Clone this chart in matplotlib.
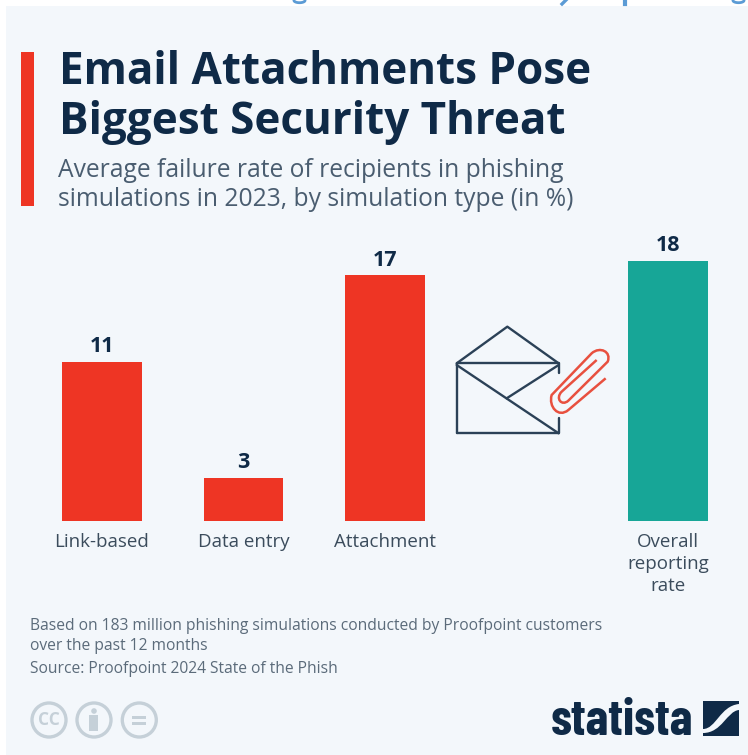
import matplotlib
matplotlib.use("Agg")
import matplotlib.pyplot as plt
from matplotlib.patches import Circle, Rectangle, PathPatch
from matplotlib.path import Path
import numpy as np

# Data
categories = ["Link-based", "Data entry", "Attachment", "Overall\nreporting\nrate"]
positions = [0, 1, 2, 4]
values = [11, 3, 17, 18]
bar_colors = ["#ee3524", "#ee3524", "#ee3524", "#17a697"]

title_lines = ["Email Attachments Pose", "Biggest Security Threat"]
subtitle_lines = ["Average failure rate of recipients in phishing",
                  "simulations in 2023, by simulation type (in %)"]
note_lines = ["Based on 183 million phishing simulations conducted by Proofpoint customers",
              "over the past 12 months"]
source_line = "Source: Proofpoint 2024 State of the Phish"

NAVY = "#0f2a47"
PANEL = "#f3f7fb"
W, H = 748, 755

plt.rcParams["font.family"] = ["Open Sans", "DejaVu Sans"]
fig = plt.figure(figsize=(W / 100, H / 100), dpi=100, facecolor="white")

# Overlay in pixel coordinates for the decoration
bg = fig.add_axes([0, 0, 1, 1])
bg.set_xlim(0, W)
bg.set_ylim(H, 0)
bg.axis("off")
bg.add_patch(Rectangle((6, 6), W - 6, H - 6, fc=PANEL, ec="none"))
bg.add_patch(Rectangle((21, 52), 13, 154, fc="#ee3524", ec="none"))

# Stubs of the page headline that the crop cuts off at the top
blue = "#5b9bd5"
t = np.linspace(0, np.pi, 20)
for cx in [299.5, 738.5]:
    bg.plot(cx + 5.5 * np.cos(t), 0.5 + 2.2 * np.sin(t), color=blue, lw=2)
bg.plot([567, 562], [-1, 4], color=blue, lw=2.4)
bg.plot([625, 625], [-1, 4], color=blue, lw=3)

for y, line in zip([84, 134], title_lines):
    bg.text(59, y, line, color=NAVY, fontsize=31.7, fontweight="bold", va="baseline")
for y, line in zip([177, 206], subtitle_lines):
    bg.text(58, y, line, color="#4a5d70", fontsize=17.7, va="baseline")
for y, line in zip([630, 650], note_lines):
    bg.text(30, y, line, color="#5b6b7a", fontsize=11.27, va="baseline")
bg.text(30, 673, source_line, color="#5b6b7a", fontsize=11.27, va="baseline")


def zoomed(points, x0=440, y0=310):
    return [(x0 + x / 3, y0 + y / 3) for x, y in points]


# Envelope
env = "#2b4157"
for seg in [[(50, 160), (202, 50), (356, 160)],
            [(50, 370), (50, 160), (356, 160), (356, 190)],
            [(356, 325), (356, 370), (50, 370)],
            [(50, 165), (356, 370)],
            [(200, 265), (356, 165)]]:
    xs, ys = zip(*zoomed(seg))
    bg.plot(xs, ys, color=env, lw=1.7, solid_joinstyle="round", solid_capstyle="round")

# Paperclip
clip_pts = [(497, 205), (385, 300), (355, 325), (325, 290), (335, 255), (455, 130),
            (480, 108), (515, 125), (503, 155), (385, 272), (365, 290), (345, 265),
            (365, 245), (470, 150)]
clip_codes = [Path.MOVETO, Path.LINETO, Path.CURVE4, Path.CURVE4, Path.CURVE4, Path.LINETO,
              Path.CURVE4, Path.CURVE4, Path.CURVE4, Path.LINETO, Path.CURVE4, Path.CURVE4,
              Path.CURVE4, Path.LINETO]
bg.add_patch(PathPatch(Path(zoomed(clip_pts), clip_codes), fc="none", ec="#e8503f", lw=1.8))

# Licence icons
icon = "#c5d0d8"
for cx in [49, 94, 139.3]:
    bg.add_patch(Circle((cx, 720), 17, fc="none", ec=icon, lw=2.4))
bg.text(49, 720, "CC", color=icon, fontsize=12.5, fontweight="bold", ha="center", va="center")
bg.add_patch(Circle((94, 711), 2.8, fc=icon, ec="none"))
bg.add_patch(Rectangle((89.5, 715), 9, 16, fc=icon, ec="none"))
bg.add_patch(Rectangle((132, 715.5), 14.5, 3, fc=icon, ec="none"))
bg.add_patch(Rectangle((132, 721.5), 14.5, 3, fc=icon, ec="none"))

# Logo
bg.text(551, 735, "statista", color=NAVY, fontsize=36.5, fontweight="bold", va="baseline",
        family=["Barlow Condensed", "Open Sans"])
bg.add_patch(Rectangle((703, 701), 36, 35, fc=NAVY, ec="none"))
wave = [(703, 729), (716, 729), (720, 706), (739, 704), (739, 710), (727, 711), (722, 733), (703, 733)]
wave_codes = [Path.MOVETO, Path.CURVE4, Path.CURVE4, Path.CURVE4, Path.LINETO,
              Path.CURVE4, Path.CURVE4, Path.CURVE4]
bg.add_patch(PathPatch(Path(wave, wave_codes), fc=PANEL, ec="none"))

# Bars
ax = fig.add_axes([31.25 / W, 1 - 521 / H, 707.5 / W, 260 / H])
ax.patch.set_alpha(0)
bars = ax.bar(positions, values, width=0.565, color=bar_colors)
ax.set_xlim(-0.5, 4.5)
ax.set_ylim(0, 18)
ax.bar_label(bars, padding=3.5, color=NAVY, fontsize=15.5, fontweight="bold")
ax.set_xticks(positions)
ax.set_xticklabels(categories, color="#3b4c5c", fontsize=13.5, linespacing=1.28)
ax.tick_params(axis="x", length=0, pad=8.5)
ax.set_yticks([])
for s in ax.spines.values():
    s.set_visible(False)

fig.savefig("out.png", dpi=100, facecolor=fig.get_facecolor())
